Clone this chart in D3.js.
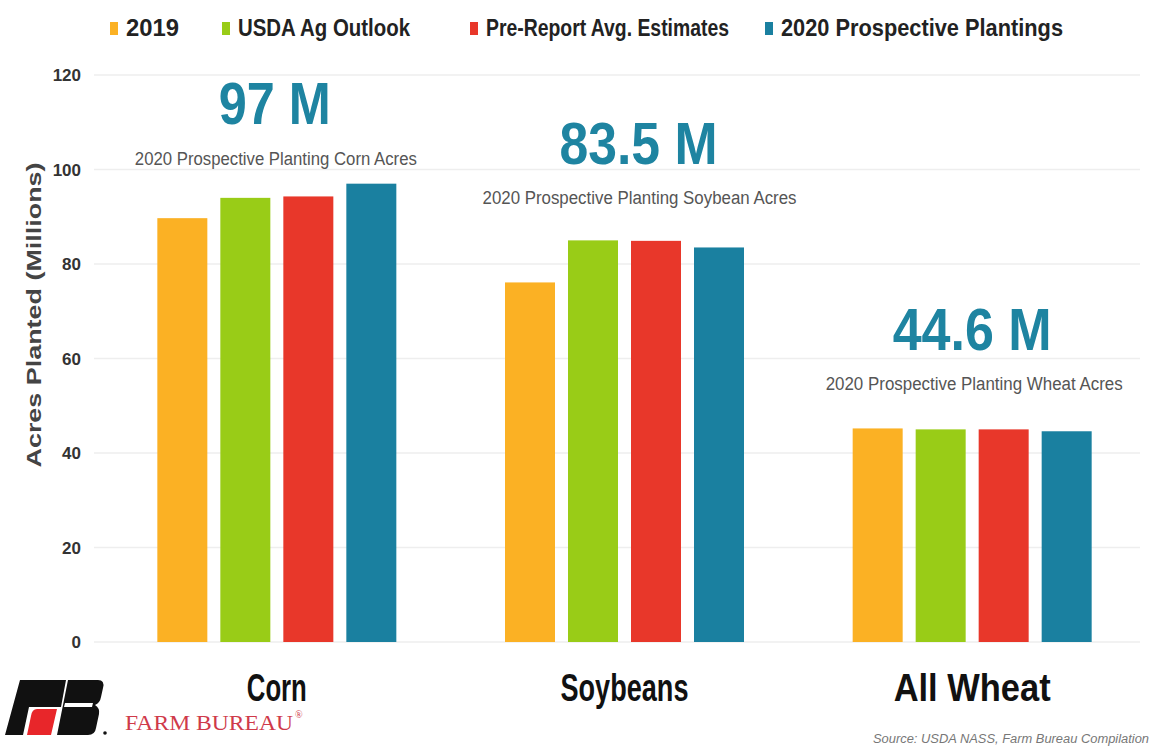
<!DOCTYPE html>
<html>
<head>
<meta charset="utf-8">
<script src="https://cdn.jsdelivr.net/npm/d3@7"></script>
<style>
  html, body { margin: 0; padding: 0; background: #ffffff; }
  svg { display: block; }
</style>
</head>
<body>
<svg id="chart" width="1153" height="750"></svg>
<script>
// Planted acreage, millions of acres
const categories = ["Corn", "Soybeans", "All Wheat"];
const seriesNames = ["2019", "USDA Ag Outlook", "Pre-Report Avg. Estimates", "2020 Prospective Plantings"];
const values2019 = [89.7, 76.1, 45.2];
const valuesOutlook = [94.0, 85.0, 45.0];
const valuesPreReport = [94.3, 84.9, 45.0];
const valuesProspective = [97.0, 83.5, 44.6];
const headlineLabels = ["97 M", "83.5 M", "44.6 M"];
const headlineCaptions = [
  "2020 Prospective Planting Corn Acres",
  "2020 Prospective Planting Soybean Acres",
  "2020 Prospective Planting Wheat Acres"
];
const yTicks = [0, 20, 40, 60, 80, 100, 120];

const seriesValues = [values2019, valuesOutlook, valuesPreReport, valuesProspective];
const colors = ["#FBB124", "#99CC17", "#E8372A", "#1A80A0"];

const svg = d3.select("#chart");
const W = 1153, H = 750;
svg.append("rect").attr("width", W).attr("height", H).attr("fill", "#fff");

const condensed = "'Liberation Sans', Arial, sans-serif";

// Scales
const y = d3.scaleLinear().domain([0, 120]).range([642, 75]);
const x0 = d3.scaleBand().domain(categories).range([103, 1146]);
const groupWidth = 239;
const x1 = d3.scaleBand().domain(seriesNames).range([0, groupWidth]).paddingInner(13 / 63);

// Gridlines
const yAxis = d3.axisLeft(y).tickValues(yTicks).tickSize(0).tickPadding(0).tickFormat(d3.format("d"));
svg.append("g")
  .selectAll("line")
  .data(yTicks)
  .join("line")
  .attr("x1", 94).attr("x2", 1140)
  .attr("y1", d => y(d)).attr("y2", d => y(d))
  .attr("stroke", "#eeeeee").attr("stroke-width", 1.5);

// Y axis tick labels
const gy = svg.append("g").attr("transform", "translate(81,0)").call(yAxis);
gy.select(".domain").remove();
gy.selectAll("text")
  .attr("font-family", "'Liberation Sans', Arial, sans-serif")
  .attr("font-weight", "bold")
  .attr("font-size", 17)
  .attr("fill", "#333")
  .attr("dy", "0.35em");

// Y axis title
svg.append("text")
  .attr("transform", "translate(41,315) rotate(-90)")
  .attr("text-anchor", "middle")
  .attr("font-family", "'Liberation Sans', Arial, sans-serif")
  .attr("font-weight", "bold")
  .attr("font-size", 21)
  .attr("fill", "#444")
  .attr("textLength", 305)
  .attr("lengthAdjust", "spacingAndGlyphs")
  .text("Acres Planted (Millions)");

// Bars
const groups = svg.append("g")
  .selectAll("g")
  .data(categories)
  .join("g")
  .attr("transform", c => `translate(${x0(c) + x0.bandwidth() / 2 - groupWidth / 2},0)`);

groups.selectAll("rect")
  .data((c, ci) => seriesNames.map((s, si) => ({ s, si, v: seriesValues[si][ci] })))
  .join("rect")
  .attr("x", d => x1(d.s))
  .attr("width", x1.bandwidth())
  .attr("y", d => y(d.v))
  .attr("height", d => y(0) - y(d.v))
  .attr("fill", d => colors[d.si]);

// Category labels
const catWidths = [60, 128, 157];
svg.append("g")
  .selectAll("text")
  .data(categories)
  .join("text")
  .attr("x", c => x0(c) + x0.bandwidth() / 2)
  .attr("y", 701)
  .attr("text-anchor", "middle")
  .attr("font-family", condensed)
  .attr("font-weight", "bold")
  .attr("font-size", 38)
  .attr("fill", "#111")
  .attr("textLength", (c, i) => catWidths[i])
  .attr("lengthAdjust", "spacingAndGlyphs")
  .text(c => c);

// Headline values above each group, tied to the prospective plantings bar
const headlineGap = [60, 83, 81];
const captionGap = [19, 43, 41];
const headlineShift = [-2, 14, 0];
const captionShift = [-1, 15, 2];
const headlineWidths = [112, 158, 159];
const captionWidths = [282, 314, 297];
categories.forEach((c, i) => {
  const cx = x0(c) + x0.bandwidth() / 2;
  const top = y(valuesProspective[i]);
  svg.append("text")
    .attr("x", cx + headlineShift[i]).attr("y", top - headlineGap[i])
    .attr("text-anchor", "middle")
    .attr("font-family", condensed)
    .attr("font-weight", "bold")
    .attr("font-size", 60)
    .attr("fill", "#1E84A1")
    .attr("textLength", headlineWidths[i])
    .attr("lengthAdjust", "spacingAndGlyphs")
    .text(headlineLabels[i]);
  svg.append("text")
    .attr("x", cx + captionShift[i]).attr("y", top - captionGap[i])
    .attr("text-anchor", "middle")
    .attr("font-family", condensed)
    .attr("font-size", 18)
    .attr("fill", "#555")
    .attr("textLength", captionWidths[i])
    .attr("lengthAdjust", "spacingAndGlyphs")
    .text(headlineCaptions[i]);
});

// Legend
const legendX = [110, 222, 470, 765];
const legendTextW = [53, 172, 243, 282];
const legend = svg.append("g")
  .selectAll("g")
  .data(seriesNames)
  .join("g")
  .attr("transform", (s, i) => `translate(${legendX[i]},0)`);
legend.append("rect")
  .attr("x", 0).attr("y", 22).attr("width", 8).attr("height", 13)
  .attr("fill", (s, i) => colors[i]);
legend.append("text")
  .attr("x", 16).attr("y", 36)
  .attr("font-family", condensed)
  .attr("font-weight", "bold")
  .attr("font-size", 23)
  .attr("fill", "#222")
  .attr("textLength", (s, i) => legendTextW[i])
  .attr("lengthAdjust", "spacingAndGlyphs")
  .text(s => s);

// Farm Bureau mark
const logo = svg.append("g");
logo.append("path")
  .attr("d", "M20,680 L66,680 L61,707 L29,707 L23,735 L5,735 Z")
  .attr("fill", "#111");
logo.append("path")
  .attr("d", "M37,709 L57,709 L51,735 L27,735 L31,716 Q32,709 37,709 Z")
  .attr("fill", "#E8262A");
logo.append("path")
  .attr("d", "M68,680 L98,680 Q105,680 103,688 L101,697 Q100,703 95,705 Q100,708 99,714 L96,728 Q95,735 88,735 L57,735 Z")
  .attr("fill", "#111");
logo.append("path")
  .attr("d", "M65,703 L93,703 L92,707 L64,707 Z")
  .attr("fill", "#fff");
logo.append("circle").attr("cx", 105).attr("cy", 733).attr("r", 1.8).attr("fill", "#111");

svg.append("text")
  .attr("x", 125).attr("y", 730)
  .attr("font-family", "'Liberation Serif', 'Times New Roman', serif")
  .attr("font-size", 22)
  .attr("fill", "#CF3A4A")
  .attr("textLength", 168)
  .attr("lengthAdjust", "spacingAndGlyphs")
  .text("FARM BUREAU");
svg.append("text")
  .attr("x", 295).attr("y", 718)
  .attr("font-family", "'Liberation Serif', 'Times New Roman', serif")
  .attr("font-size", 10)
  .attr("fill", "#CF3A4A")
  .text("®");

// Source line
svg.append("text")
  .attr("x", 1149).attr("y", 743)
  .attr("text-anchor", "end")
  .attr("font-family", condensed)
  .attr("font-style", "italic")
  .attr("font-size", 12)
  .attr("fill", "#777")
  .attr("textLength", 276)
  .attr("lengthAdjust", "spacingAndGlyphs")
  .text("Source: USDA NASS, Farm Bureau Compilation");
</script>
</body>
</html>
